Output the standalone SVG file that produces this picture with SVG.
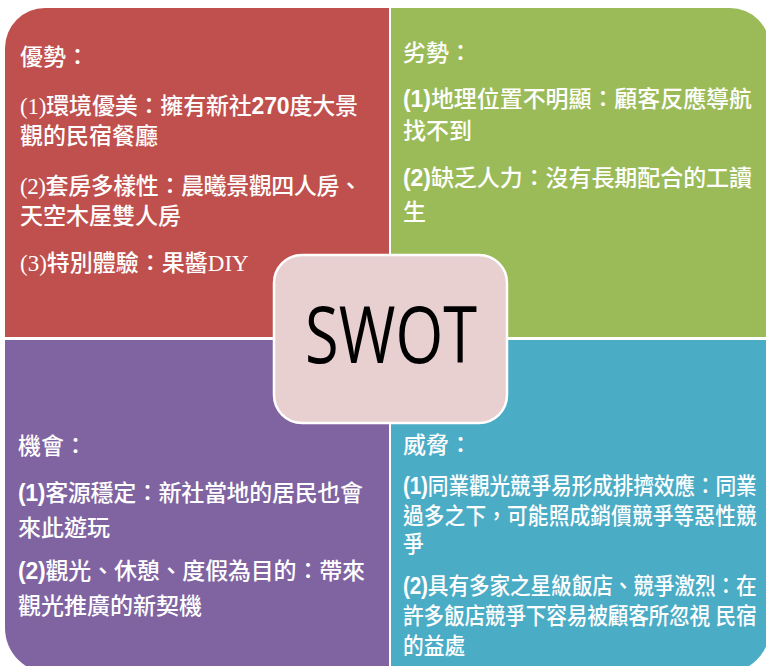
<svg xmlns="http://www.w3.org/2000/svg" width="766" height="666" viewBox="0 0 766 666">
<style>
.t{fill:#ffffff;font-size:23px;font-weight:500}
.serif{font-family:"Liberation Serif","Noto Sans CJK TC",serif}
.sans{font-family:"Liberation Sans","Noto Sans CJK TC",sans-serif}
.b{font-weight:bold;font-family:"Liberation Sans","Noto Sans CJK TC",sans-serif}
.quad{stroke:none}
</style>
<rect width="766" height="666" fill="#ffffff"/>
<g id="strengths">
<path class="quad" d="M5,48 A40,40 0 0 1 45,8 L389,8 L389,337 L5,337 Z" fill="#C0504D"/>
<g class="t serif">
<text x="20" y="65">優勢：</text>
<text x="20" y="114" textLength="338">(1)環境優美：擁有新社<tspan class="b">270</tspan>度大景</text>
<text x="20" y="144">觀的民宿餐廳</text>
<text x="20" y="194" textLength="342">(2)套房多樣性：晨曦景觀四人房、</text>
<text x="20" y="224">天空木屋雙人房</text>
<text x="20" y="271">(3)特別體驗：果醬DIY</text>
</g>
</g>
<g id="weaknesses">
<path class="quad" d="M391,8 L730,8 A40,40 0 0 1 770,48 L770,337 L391,337 Z" fill="#9BBB59"/>
<g class="t sans">
<text x="403" y="61">劣勢：</text>
<text x="403" y="107" textLength="349"><tspan class="b">(1)</tspan>地理位置不明顯：顧客反應導航</text>
<text x="403" y="139">找不到</text>
<text x="403" y="186" textLength="349"><tspan class="b">(2)</tspan>缺乏人力：沒有長期配合的工讀</text>
<text x="403" y="220">生</text>
</g>
</g>
<g id="opportunities">
<path class="quad" d="M5,340 L389,340 L389,673 L50,673 A45,45 0 0 1 5,628 Z" fill="#8064A2"/>
<g class="t sans">
<text x="18" y="454">機會：</text>
<text x="18" y="501" textLength="345"><tspan class="b">(1)</tspan>客源穩定：新社當地的居民也會</text>
<text x="18" y="536">來此遊玩</text>
<text x="18" y="579" textLength="347"><tspan class="b">(2)</tspan>觀光、休憩、度假為目的：帶來</text>
<text x="18" y="614">觀光推廣的新契機</text>
</g>
</g>
<g id="threats">
<path class="quad" d="M391,340 L770,340 L770,628 A45,45 0 0 1 725,673 L391,673 Z" fill="#4BACC6"/>
<text class="t sans" x="403" y="453">威脅：</text>
<g class="t sans" transform="translate(403,0) scale(0.9,1)">
<text x="0" y="494" textLength="393"><tspan class="b">(1)</tspan>同業觀光競爭易形成排擠效應：同業</text>
<text x="0" y="524" textLength="393">過多之下，可能照成銷價競爭等惡性競</text>
<text x="0" y="552">爭</text>
<text x="0" y="594" textLength="393"><tspan class="b">(2)</tspan>具有多家之星級飯店、競爭激烈：在</text>
<text x="0" y="624" textLength="393">許多飯店競爭下容易被顧客所忽視 民宿</text>
<text x="0" y="654">的益處</text>
</g>
</g>
<g id="swot">
<rect x="274" y="255" width="233" height="168" rx="28" ry="28" fill="#E8D0D1" stroke="#ffffff" stroke-width="2.5"/>
<text x="391" y="363" text-anchor="middle" textLength="172" lengthAdjust="spacingAndGlyphs" style="font-family:'Open Sans','Liberation Sans',sans-serif;font-size:78px;fill:#000000">SWOT</text>
</g>
</svg>
